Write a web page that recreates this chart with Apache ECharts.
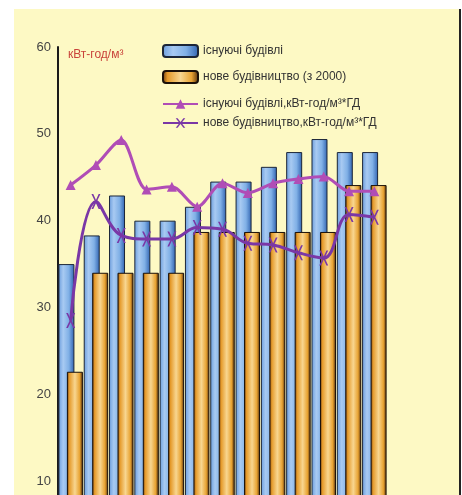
<!DOCTYPE html>
<html>
<head>
<meta charset="utf-8">
<script src="https://cdn.jsdelivr.net/npm/echarts@6/dist/echarts.min.js"></script>
<style>
  html, body { margin: 0; padding: 0; background: #fff; overflow: hidden; }
  #chart { width: 462px; height: 580px; }
</style>
</head>
<body>
<div id="chart"></div>
<script>
var categories = ['1', '2', '3', '4', '5', '6', '7', '8', '9', '10', '11', '12', '13'];
var existing = [35, 38.3, 42.9, 40, 40, 41.6, 44.5, 44.5, 46.2, 47.9, 49.4, 47.9, 47.9];
var newBuild = [22.6, 34, 34, 34, 34, 38.7, 38.7, 38.7, 38.7, 38.7, 38.7, 44.1, 44.1];
var existingPerDD = [44.1, 46.4, 49.3, 43.6, 43.9, 41.6, 44.3, 43.2, 44.3, 44.8, 45.1, 43.4, 43.4];
var newPerDD = [28.5, 42.2, 38.3, 37.9, 37.9, 39.2, 39.0, 37.4, 37.2, 36.3, 35.7, 40.7, 40.4];
var yTicks = [0, 10, 20, 30, 40, 50, 60];

var names = [
    'існуючі будівлі',
    'нове будівництво (з 2000)',
    'існуючі будівлі,кВт-год/м³*ГД',
    'нове будівництво,кВт-год/м³*ГД'
];

// chart is taller than the window: the lower part of the axis is cut off as in the source
var myChart = echarts.init(document.getElementById('chart'));

var blueFill = new echarts.graphic.LinearGradient(0, 0, 1, 0, [
    {offset: 0, color: '#6a9cdc'},
    {offset: 0.3, color: '#a8caf2'},
    {offset: 0.65, color: '#80b0e6'},
    {offset: 1, color: '#2f62b0'}
]);
var orangeFill = new echarts.graphic.LinearGradient(0, 0, 1, 0, [
    {offset: 0, color: '#5e3410'},
    {offset: 0.15, color: '#e59a2a'},
    {offset: 0.5, color: '#f8d690'},
    {offset: 0.8, color: '#e8a332'},
    {offset: 1, color: '#4e2a0a'}
]);
var xMark = 'path://M0,0L2,0L5,5.5L8,0L10,0L6,7L10,14L8,14L5,8.5L2,14L0,14L4,7Z';

var option = {
    backgroundColor: '#fff',
    animation: false,
    graphic: [
        {type: 'rect', z: 0, shape: {x: 14, y: 9, width: 445, height: 580}, style: {fill: '#fdf9c4'}},
        {type: 'rect', z: 0, shape: {x: 459, y: 9, width: 2, height: 580}, style: {fill: '#222'}},
        {type: 'text', z: 5, left: 68, top: 49,
            style: {text: 'кВт-год/м³', fill: '#c9443b', font: '12px "Liberation Sans"'}}
    ],
    grid: {
        left: 58,
        right: 75,
        top: 47,
        bottom: 12
    },
    legend: [
        {
            left: 157,
            top: 39,
            orient: 'vertical',
            itemWidth: 35,
            itemHeight: 12,
            itemGap: 12,
            textStyle: {color: '#333', fontSize: 12, fontFamily: 'Liberation Sans'},
            data: [names[0], names[1]]
        },
        {
            left: 157,
            top: 93,
            orient: 'vertical',
            itemWidth: 35,
            itemHeight: 12,
            itemGap: 7,
            textStyle: {color: '#333', fontSize: 12, fontFamily: 'Liberation Sans'},
            data: [names[2], names[3]]
        }
    ],
    xAxis: {
        type: 'category',
        data: categories,
        boundaryGap: true,
        axisLine: {show: false},
        axisTick: {show: false},
        axisLabel: {show: false}
    },
    yAxis: {
        type: 'value',
        min: yTicks[0],
        max: yTicks[yTicks.length - 1],
        interval: 10,
        axisLine: {show: true, lineStyle: {color: '#1a1a1a', width: 2}},
        axisTick: {show: false},
        splitLine: {show: false},
        axisLabel: {
            margin: 7,
            color: '#444',
            fontSize: 13,
            fontFamily: 'Liberation Sans'
        }
    },
    series: [
        {
            type: 'bar',
            name: names[0],
            barWidth: 16,
            barGap: '-47%',
            itemStyle: {color: blueFill, borderColor: '#1c2638', borderWidth: 1},
            data: existing
        },
        {
            type: 'bar',
            name: names[1],
            barWidth: 16,
            barGap: '-47%',
            itemStyle: {color: orangeFill, borderColor: '#1a1008', borderWidth: 1},
            data: newBuild
        },
        {
            type: 'line',
            name: names[2],
            smooth: 0.3,
            symbol: 'triangle',
            symbolSize: 10,
            z: 4,
            lineStyle: {color: '#b04db6', width: 3},
            itemStyle: {color: '#b04db6'},
            data: existingPerDD
        },
        {
            type: 'line',
            name: names[3],
            smooth: 0.4,
            symbol: xMark,
            symbolSize: [9, 15],
            z: 4,
            lineStyle: {color: '#7a37a6', width: 3},
            itemStyle: {color: '#7a37a6'},
            data: newPerDD
        }
    ]
};

myChart.setOption(option);
</script>
</body>
</html>
